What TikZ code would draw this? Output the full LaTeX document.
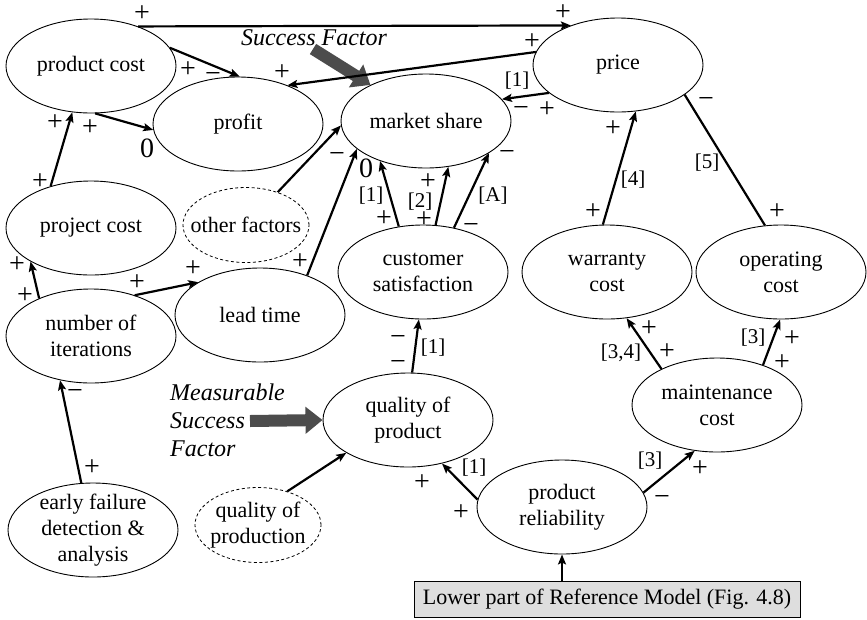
\documentclass[tikz,border=0pt]{standalone}
\usepackage{fontspec}
\setmainfont{Liberation Serif}
\usepackage{tikz}
\usetikzlibrary{shapes.geometric,arrows.meta}

\tikzset{
  fact/.style={draw, ellipse, line width=0.9pt, minimum width=170pt, minimum height=94pt,
    inner xsep=-15pt, inner ysep=-15pt, align=center},
  other/.style={fact, dash pattern=on 3pt off 2.5pt, line width=0.8pt, minimum width=126pt, minimum height=75pt},
  link/.style={line width=2.2pt, -{Stealth[length=10pt,width=8pt,inset=2pt]}},
  sgn/.style={font=\fontsize{28}{28}\selectfont, inner sep=0pt, text height=14pt, text depth=0pt},
  tag/.style={font=\fontsize{21}{21}\selectfont, inner sep=0pt, text height=14.7pt, text depth=4.2pt},
  hint/.style={font=\fontsize{24}{28}\selectfont\itshape, align=left, inner sep=0pt},
  bigarrow/.style={draw=black!70, line width=12pt, -{Triangle[length=17pt,width=26pt]}},
}

\begin{document}
\begin{tikzpicture}[x=1pt,y=-1pt,font=\fontsize{22}{26}\selectfont]
             \useasboundingbox (0,0) rectangle (867,619);

             \node[fact] (pcost) at (91,66) {product cost};
             \node[fact] (profit) at (238,124) {profit};
             \node[fact] (share) at (426,121) {market share};
             \node[fact] (price) at (618,65) {price};
             \node[fact] (pjcost) at (91,228) {project cost};
             \node[other] (ofac) at (246,225) {other factors};
             \node[fact] (iter) at (91,336) {number of\\iterations};
             \node[fact] (lead) at (260,315) {lead time};
             \node[fact] (csat) at (423,272) {customer\\satisfaction};
             \node[fact] (wcost) at (607,272) {warranty\\cost};
             \node[fact] (ocost) at (781,272) {operating\\cost};
             \node[fact] (qprod) at (408,420) {quality of\\product};
             \node[fact] (mcost) at (717,405) {maintenance\\cost};
             \node[fact] (rel) at (562,507) {product\\reliability};
             \node[fact] (early) at (93,530) {early failure\\detection \&\\analysis};
             \node[other] (qprodn) at (258,525) {quality of\\production};
             \node[draw, fill=black!13, line width=0.9pt, minimum width=386pt, minimum height=36pt,
               inner sep=0pt] (lower) at (607,599) {Lower part of Reference Model (Fig. 4.8)};

             \node[hint] (sf) at (314,38) {Success Factor};
             \node[hint, anchor=west] (msf) at (170,420) {Measurable\\Success\\Factor};
             \coordinate (sfs) at (313,49);
             \coordinate (msfs) at (250,421);
             \draw[bigarrow] (sfs) -- (share.147);
             \draw[bigarrow] (msfs) -- (qprod.west);

             \draw[link] (pcost.40) -- (price.140);
             \draw[link] (pcost.13) -- (profit.88);
             \draw[link] (pcost.275) -- (profit.184);
             \draw[link] (price.171) -- (profit.38);
             \draw[link] (price.202) -- (share.16);
             \draw[line width=2.2pt] (price.336) -- (ocost.109);
             \draw[link] (wcost.95) -- (price.291);
             \draw[link] (ofac.46) -- (share.183);
             \draw[link] (lead.40) -- (share.202);
             \draw[link] (csat.118) -- (share.221);
             \draw[link] (csat.75) -- (share.296);
             \draw[link] (csat.55) -- (share.333);
             \draw[link] (qprod.85) -- (csat.265);
             \draw[link] (rel.175) -- (qprod.308);
             \draw[link] (rel.10) -- (mcost.244);
             \draw[link] (mcost.147) -- (wcost.293);
             \draw[link] (mcost.41) -- (ocost.269);
             \draw[link] (lower.north -| rel.south) -- (rel.south);
             \draw[link] (iter.144) -- (pjcost.209);
             \draw[link] (iter.43) -- (lead.152);
             \draw[link] (pjcost.134) -- (pcost.248);
             \draw[link] (early.104) -- (iter.235);
             \draw[link] (qprodn.49) -- (qprod.208);

             \foreach \x/\y/\s [count=\i] in {142/14/+, 563/13/+, 188/70/+, 213/75/−, 90/128/+,
               532/42/+, 282/73/+, 521/109/−, 547/110/+, 706/100/−, 777/212/+, 613/129/+,
               593/212/+, 300/262/+, 337/155/−, 384/219/+, 428/182/+, 424/220/+, 471/226/−,
               507/153/−, 398/338/−, 398/363/−, 422/483/+, 461/513/+, 700/469/+, 662/498/−,
               649/329/+, 667/352/+, 792/339/+, 782/363/+, 17/265/+, 25/296/+, 137/283/+,
               193/269/+, 40/182/+, 55/123/+, 75/392/−, 92/468/+, 147/150/0, 366/170/0}
               \node[sgn] (sg\i) at (\x,\y) {\s};

             \foreach \x/\y/\s [count=\i] in {517/81/{[1]}, 707/163/{[5]}, 633/180/{[4]},
               371/196/{[1]}, 420/202/{[2]}, 493/196/{[A]}, 433/348/{[1]}, 474/468/{[1]},
               650/461/{[3]}, 621/353/{[3,4]}, 753/338/{[3]}}
               \node[tag] (tg\i) at (\x,\y) {\s};
             \end{tikzpicture}
\end{document}
